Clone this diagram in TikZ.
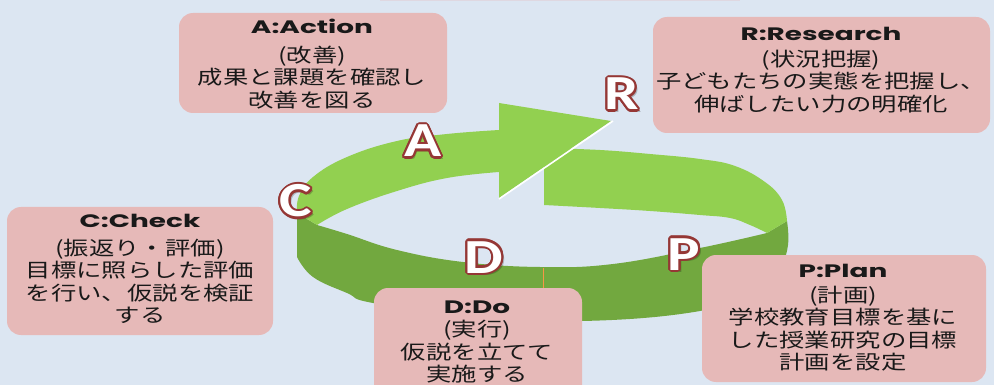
\documentclass[tikz,border=0pt]{standalone}
\usepackage{fontspec}
\usetikzlibrary{calc}
\newfontfamily\jpfont{Noto Sans CJK JP}[FakeStretch=1.3]
\newfontfamily\ttlfont{Poppins}[FakeStretch=1.55]
\newfontfamily\letfont{Carlito}[FakeStretch=1.25]
\definecolor{bg}{HTML}{DCE6F2}
\definecolor{boxpink}{HTML}{E6B9B8}
\definecolor{lgreen}{HTML}{92D050}
\definecolor{dgreen}{HTML}{72A83F}
\definecolor{outred}{HTML}{953735}
\definecolor{orangeline}{HTML}{F79646}
\tikzset{
  infobox/.style={fill=boxpink, rounded corners=14pt, inner sep=0pt},
  infotext/.style={inner sep=0pt, align=center, text=black!90,
    font=\jpfont\fontsize{19.5}{22.5}\selectfont},
  letnode/.style={font=\letfont\bfseries\fontsize{49}{49}\selectfont, inner sep=0pt, anchor=base},
  ringlight/.style={fill=lgreen},
  ringdark/.style={fill=dgreen},
}
\newcommand{\ttl}[1]{{\ttlfont\bfseries\fontsize{18}{21}\selectfont #1}}
\newcommand{\bigletter}[3]{%
  \node[letnode, text=black, opacity=0.22] at ($(#2)+(2.5,2.5)$) {#3};
  \foreach \ang in {0,22.5,...,337.5}{\node[letnode, text=outred] at ($(#2)+(\ang:2.1)$) {#3};}
  \node[letnode, text=white] (#1) at (#2) {#3};
}
\begin{document}
\begin{tikzpicture}[x=1pt, y=-1pt]
\clip (0,0) rectangle (994,385);
\fill[bg] (0,0) rectangle (994,385);
% faint box edge at the top
\fill[boxpink!30!bg] (380,-12) rectangle (740,1.5);

% ring: dark front side
\fill[ringdark] (297,213) -- plot[smooth, tension=0.7] coordinates {(317,225) (347,234) (397,250) (463,262) (540,267) (613,264) (700,248) (767,233)}
  -- (787,221) -- plot[smooth, tension=0.7] coordinates {(787,221) (788,245) (780,268) (760,290) (700,311) (582,321) (470,316) (373,303) (347,293) (313,277) (297,257)} -- cycle;
% ring: upper left band with arrow head
\fill[ringlight] plot[smooth, tension=0.7] coordinates {(297,213) (299,196) (313,177) (347,157) (397,141) (447,134) (499,130)}
  -- (499,103) -- (611,121) -- (499,198)
  -- plot[smooth, tension=0.7] coordinates {(499,172) (447,178) (397,191) (347,209) (317,225)} -- cycle;
% ring: upper right band (tail)
\fill[ringlight] (544,205) -- plot[smooth, tension=0.7] coordinates {(544,148) (600,150) (650,154) (700,159) (735,166) (765,182) (782,200) (787,221)}
  -- plot[smooth, tension=0.7] coordinates {(767,233) (750,225) (730,218) (700,215) (650,211) (600,208) (544,205)} -- cycle;
\draw[white, line width=1.6pt] (499,199) -- (613,121);

% boxes
\node[infobox, minimum width=268pt, minimum height=100pt] (boxA) at (313,63) {};
\node[infobox, minimum width=337pt, minimum height=116pt] (boxR) at (821.5,75) {};
\node[infobox, minimum width=266pt, minimum height=128pt] (boxC) at (140,271) {};
\node[infobox, minimum width=208pt, minimum height=122pt] (boxD) at (478,349) {};
\node[infobox, minimum width=284pt, minimum height=127pt] (boxP) at (844,318.5) {};

\coordinate (ringD) at (543,268);
\draw[orangeline, line width=1pt] (ringD) -- (ringD |- boxD.north);

\node[infotext] (txtA) at (312,64) {\ttl{A:Action}\\[6pt](改善)\\成果と課題を確認し\\改善を図る};
\node[infotext] (txtR) at (821,70) {\ttl{R:Research}\\[3pt](状況把握)\\子どもたちの実態を把握し、\\伸ばしたい力の明確化};
\node[infotext] (txtC) at (140,269) {\ttl{C:Check}\\[5pt](振返り・評価)\\目標に照らした評価\\を行い、仮説を検証\\する};
\node[infotext] (txtD) at (477,342) {\ttl{D:Do}\\[1pt](実行)\\仮説を立てて\\実施する};
\node[infotext] (txtP) at (843,318) {\ttl{P:Plan}\\[2pt](計画)\\学校教育目標を基に\\した授業研究の目標\\計画を設定};

% big letters
\bigletter{letR}{622,110}{R}
\bigletter{letA}{423,157}{A}
\bigletter{letC}{296,217}{C}
\bigletter{letD}{484,273}{D}
\bigletter{letP}{684,270}{P}
\end{tikzpicture}
\end{document}
